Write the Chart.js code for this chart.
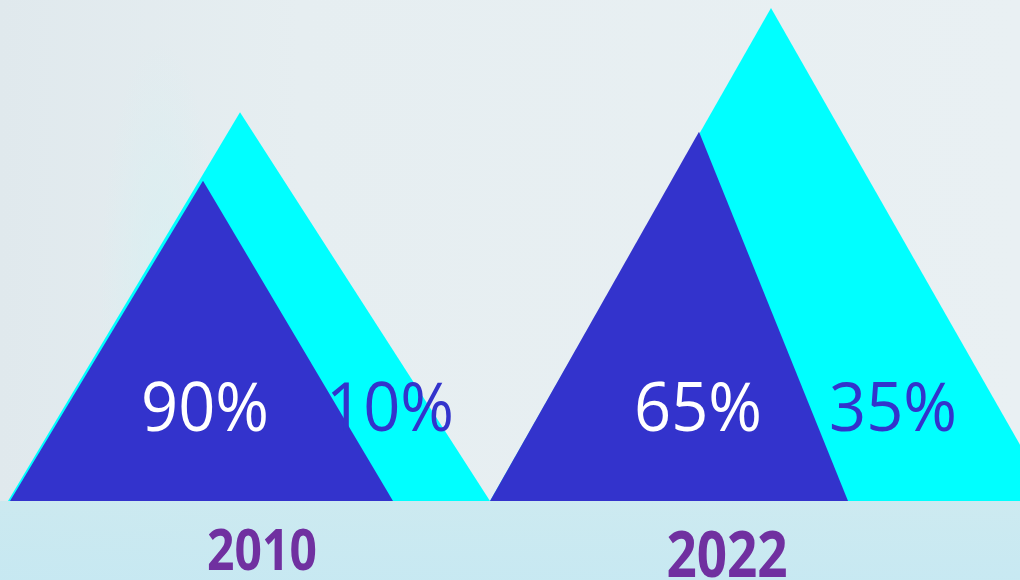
<!DOCTYPE html>
<html>
<head>
<meta charset="utf-8">
<script src="https://cdn.jsdelivr.net/npm/chart.js@4/dist/chart.umd.min.js"></script>
<style>
  html, body { margin: 0; padding: 0; }
  body {
    width: 1020px;
    height: 580px;
    overflow: hidden;
    background:
      linear-gradient(to bottom, rgba(0,0,0,0) 0px, rgba(0,0,0,0) 501px, rgba(200,233,240,0.85) 501px, rgba(196,232,242,0.9) 580px),
      radial-gradient(ellipse 60px 260px at 160px 300px, rgba(215,240,242,0.8), rgba(0,0,0,0)),
      linear-gradient(to right, #e0e9ed 0px, #e6eef1 300px, #e9f0f3 1020px);
  }
  #wrap { position: relative; width: 1020px; height: 580px; }
</style>
</head>
<body>
<div id="wrap"><canvas id="peaks" width="1020" height="580"></canvas></div>
<script>
const ctx = document.getElementById('peaks').getContext('2d');

// Годы и доли
const years = ['2010', '2022'];
const shareMain = [90, 65]; // синий треугольник
const shareRest = [10, 35]; // бирюзовый треугольник

// Высоты пиков (0..100 от основания до верха)
const outerHeight = [77.6, 98.4];
const innerHeight = [63.9, 73.7];

// Основания и вершины по оси X (0..102)
const outerLeft = [0.8, 49.0];
const outerPeak = [24.0, 77.1];
const outerRight = [49.0, 105.2];
const innerLeft = [1.0, 49.0];
const innerPeak = [20.3, 69.9];
const innerRight = [39.3, 84.8];

const BLUE = '#3333cc';
const CYAN = '#00ffff';
const PURPLE = '#7030a0';

function triangle(l, p, r, h) {
  return [
    { x: l, y: 0 },
    { x: p, y: h },
    { x: r, y: 0 },
  ];
}

const datasets = [];
years.forEach((year, i) => {
  datasets.push({
    label: year + ' inner',
    data: triangle(innerLeft[i], innerPeak[i], innerRight[i], innerHeight[i]),
    backgroundColor: BLUE,
    borderWidth: 0,
    pointRadius: 0,
    tension: 0,
    fill: 'origin',
    order: 0,
  });
  datasets.push({
    label: year + ' outer',
    data: triangle(outerLeft[i], outerPeak[i], outerRight[i], outerHeight[i]),
    backgroundColor: CYAN,
    borderWidth: 0,
    pointRadius: 0,
    tension: 0,
    fill: 'origin',
    order: 1,
  });
});

// где рисовать подписи (в единицах шкал)
const mainLabelX = [20.5, 69.8];
const restLabelX = [39.0, 89.3];
const pctLabelY = 14.0;
const yearLabelX = [26.2, 72.7];
const yearBaseline = [570, 577];
const yearFontSize = [48, 53];

function drawText(c, text, x, y, font, color, sy) {
  c.save();
  c.translate(x, y);
  c.scale(1, sy);
  c.font = font;
  c.fillStyle = color;
  c.textAlign = 'center';
  c.textBaseline = 'alphabetic';
  c.fillText(text, 0, 0);
  c.restore();
}

const labelsPlugin = {
  id: 'peakLabels',
  afterDraw(chart) {
    const c = chart.ctx;
    const xs = chart.scales.x;
    const ys = chart.scales.y;
    years.forEach((year, i) => {
      const py = ys.getPixelForValue(pctLabelY);
      drawText(c, shareMain[i] + '%', xs.getPixelForValue(mainLabelX[i]), py,
        '400 65px "Open Sans"', '#ffffff', 1.03);
      drawText(c, shareRest[i] + '%', xs.getPixelForValue(restLabelX[i]), py,
        '400 65px "Open Sans"', BLUE, 1.03);
      drawText(c, year, xs.getPixelForValue(yearLabelX[i]), yearBaseline[i],
        '700 ' + yearFontSize[i] + 'px "Open Sans"', PURPLE, 1.2);
    });
  },
};

new Chart(ctx, {
  type: 'line',
  data: { datasets: datasets },
  options: {
    responsive: false,
    animation: false,
    layout: { padding: { left: 0, right: 0, top: 0, bottom: 79 } },
    plugins: {
      legend: { display: false },
      tooltip: { enabled: false },
    },
    scales: {
      x: { type: 'linear', min: 0, max: 102, display: false },
      y: { type: 'linear', min: 0, max: 100, display: false },
    },
  },
  plugins: [labelsPlugin],
});
</script>
</body>
</html>
